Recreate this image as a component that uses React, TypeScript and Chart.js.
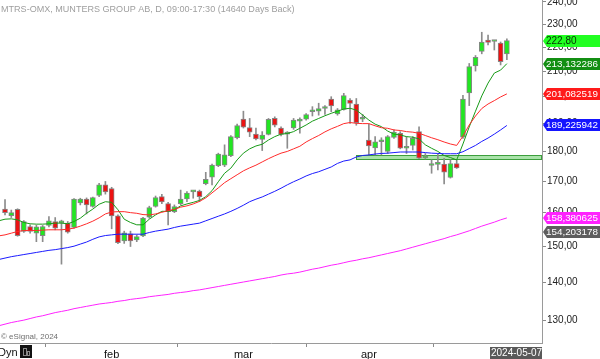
import React, { useEffect, useRef } from "react";
import { Chart, registerables } from "chart.js";

Chart.register(...registerables);

// ---------- DATA ----------
const titleText = "MTRS-OMX, MUNTERS GROUP AB, D, 09:00-17:30 (14640 Days Back)";
const copyrightText = "\u00A9 eSignal, 2024";
const lastDateText = "2024-05-07";

// candles (index 0..80)
const opens = [
  161.1, 159.1, 161.0, 154.3, 155.8, 153.8, 153.1, 156.1, 157.3, 156.9,
  156.8, 155.5, 163.0, 164.2, 161.9, 165.4, 168.8, 167.6, 159.0, 151.5,
  153.6, 151.8, 153.0, 158.6, 161.9, 165.0, 162.8, 160.3, 162.8, 164.3,
  166.5, 166.8, 169.2, 171.3, 175.1, 175.3, 178.5, 184.8, 191.6, 188.5,
  186.1, 184.2, 186.0, 191.8, 188.3, 186.1, 188.3, 190.8, 191.5, 194.3,
  194.5, 195.5, 199.1, 193.5, 195.2, 198.7, 197.2, 191.5, 184.0, 181.2,
  183.4, 180.0, 184.9, 186.4, 181.1, 182.1, 187.0, 177.8, 175.2, 175.6,
  175.7, 171.2, 175.8, 185.0, 201.5, 212.2, 218.2, 223.0, 222.4, 221.7,
  217.2,
];
const highs = [
  164.1, 160.8, 161.2, 157.6, 156.3, 156.2, 156.1, 158.8, 158.5, 157.7,
  157.3, 164.4, 164.5, 164.6, 164.9, 169.3, 169.9, 168.0, 159.3, 154.4,
  154.4, 153.3, 158.6, 162.0, 165.2, 165.7, 163.2, 162.4, 167.1, 166.6,
  166.9, 167.1, 172.9, 175.7, 179.4, 182.3, 185.6, 189.7, 194.5, 191.8,
  188.3, 187.0, 191.8, 192.4, 188.7, 187.0, 191.8, 192.0, 193.6, 196.2,
  197.5, 196.6, 200.0, 195.5, 201.3, 199.3, 199.3, 193.3, 189.7, 185.2,
  184.8, 185.6, 187.6, 187.0, 185.2, 185.2, 188.7, 179.3, 177.1, 179.1,
  177.6, 177.1, 177.0, 200.5, 213.2, 216.5, 226.4, 225.2, 222.8, 222.2,
  223.6,
];
const lows = [
  159.3, 158.5, 152.9, 154.0, 153.8, 151.3, 151.3, 155.7, 154.8, 144.9,
  153.8, 155.3, 162.4, 159.6, 161.7, 165.0, 165.8, 155.1, 150.7, 150.8,
  149.9, 151.3, 152.8, 158.3, 161.7, 162.8, 156.3, 160.0, 162.4, 163.4,
  164.5, 163.4, 168.8, 168.8, 174.8, 174.8, 178.2, 184.4, 188.3, 185.2,
  184.0, 180.3, 185.8, 188.7, 185.5, 181.1, 187.8, 186.4, 191.2, 192.7,
  193.0, 193.3, 194.3, 193.0, 194.9, 190.0, 189.3, 190.6, 178.8, 178.8,
  178.8, 179.3, 184.6, 180.9, 179.3, 180.5, 177.5, 177.4, 172.6, 173.7,
  169.1, 171.0, 174.2, 184.6, 196.6, 210.1, 217.2, 220.9, 218.8, 212.6,
  214.8,
];
const closes = [
  160.0, 160.0, 153.1, 157.3, 154.3, 155.7, 155.8, 157.5, 155.3, 157.4,
  154.1, 164.2, 164.2, 162.4, 164.7, 168.8, 166.5, 159.0, 151.0, 153.9,
  151.5, 152.8, 158.3, 161.6, 164.7, 163.3, 160.3, 161.9, 164.2, 166.1,
  166.7, 165.0, 170.6, 175.3, 179.1, 178.8, 185.2, 189.2, 188.6, 186.8,
  184.4, 185.8, 191.5, 189.3, 186.0, 186.7, 191.2, 191.1, 193.2, 194.9,
  195.5, 195.8, 196.5, 195.0, 200.4, 197.4, 190.2, 191.9, 181.9, 183.4,
  183.6, 185.2, 186.8, 181.1, 181.8, 184.6, 177.7, 178.0, 175.3, 175.8,
  173.0, 175.8, 174.4, 199.1, 211.9, 215.7, 222.2, 222.0, 222.6, 213.9,
  222.8,
];

// moving averages (index -1..80)
const maGreen = [
  157.5, 158.0, 158.1, 157.8, 157.0, 156.6, 156.5, 156.5, 156.6, 156.8, 156.8,
  156.6, 157.3, 158.3, 159.8, 161.1, 162.6, 163.4, 163.2, 160.9, 158.0,
  157.0, 156.3, 156.3, 158.0, 159.3, 160.4, 160.4, 160.9, 162.1, 162.7,
  163.2, 163.8, 165.0, 166.9, 169.8, 172.6, 174.3, 177.1, 179.4, 180.9,
  181.9, 182.5, 184.0, 185.2, 186.1, 186.3, 187.0, 188.2, 189.4, 190.8,
  191.8, 192.8, 193.7, 194.5, 195.3, 195.6, 194.9, 193.1, 191.2, 189.7,
  188.8, 187.2, 186.1, 185.8, 185.2, 185.0, 184.4, 182.3, 181.1, 180.0,
  178.6, 177.9, 177.1, 182.6, 188.7, 194.5, 200.3, 205.3, 209.3, 210.5,
  213.132286,
];
const maRed = [
  153.0, 153.3, 153.8, 154.3, 154.6, 154.6, 154.6, 154.7, 154.8, 154.8, 154.8,
  155.0, 155.3, 155.9, 156.6, 157.4, 158.4, 159.6, 160.2, 160.3, 160.3,
  160.0, 159.8, 159.4, 159.3, 159.6, 160.1, 160.6, 161.0, 161.7, 162.1,
  162.7, 163.5, 164.6, 166.2, 167.8, 169.5, 170.8, 172.1, 173.4, 174.4,
  175.3, 176.4, 177.5, 178.5, 179.4, 180.0, 180.9, 181.8, 183.3, 184.5,
  185.6, 186.9, 188.0, 188.9, 189.9, 190.3, 190.0, 189.9, 189.9, 189.1,
  188.4, 188.2, 187.6, 187.4, 187.0, 186.8, 186.4, 185.6, 184.8, 184.1,
  183.3, 182.6, 182.1, 185.4, 189.4, 192.7, 195.5, 197.2, 198.5, 199.9,
  201.082519,
];
const maBlue = [
  146.2, 146.6, 147.0, 147.3, 147.6, 147.9, 148.2, 148.5, 148.8, 149.0, 149.3,
  149.6, 150.0, 150.6, 151.2, 152.0, 152.7, 153.1, 153.3, 153.5, 153.5,
  153.5, 153.5, 153.5, 154.0, 154.4, 154.7, 155.0, 155.5, 155.9, 156.2,
  156.5, 156.8, 157.5, 158.2, 158.9, 159.6, 160.4, 161.3, 162.3, 163.4,
  164.2, 164.9, 165.8, 166.7, 167.7, 168.8, 169.8, 170.7, 171.7, 172.5,
  173.1, 173.9, 174.7, 175.9, 176.7, 177.1, 178.1, 178.6, 178.8, 179.1,
  179.3, 179.4, 179.6, 179.8, 179.8, 179.8, 179.8, 179.6, 179.4, 179.3,
  179.2, 179.2, 179.2, 179.9, 181.0, 182.1, 183.5, 184.7, 186.1, 187.6,
  189.225942,
];
const maMagenta = [
  128.7, 129.1, 129.5, 129.8, 130.1, 130.5, 130.9, 131.2, 131.6, 132.0, 132.3,
  132.6, 133.0, 133.3, 133.6, 133.9, 134.2, 134.4, 134.6, 134.9, 135.1,
  135.4, 135.6, 135.8, 136.1, 136.3, 136.5, 136.7, 137.0, 137.2, 137.4,
  137.7, 137.9, 138.2, 138.5, 138.8, 139.1, 139.4, 139.7, 140.0, 140.3,
  140.6, 140.9, 141.2, 141.5, 141.9, 142.2, 142.4, 142.7, 143.1, 143.5,
  143.8, 144.2, 144.6, 144.9, 145.3, 145.7, 146.0, 146.4, 146.7, 147.1,
  147.5, 147.9, 148.3, 148.7, 149.2, 149.7, 150.2, 150.7, 151.2, 151.7,
  152.2, 152.8, 153.3, 153.9, 154.5, 155.2, 155.9, 156.5, 157.1, 157.8,
  158.380625,
];

// axis ticks
const yTickValues = [130, 140, 150, 160, 170, 180, 190, 200, 210, 220, 230, 240];
const monthTickIndex = [17, 38, 58, 78.5];
const monthTickLabels = ["feb", "mar", "apr", ""];

// support band
const bandStartIndex = 55.95;
const bandLow = 177.3;
const bandHigh = 178.9;

// price badges on the right axis
const badgeValues = [222.8, 213.132286, 201.082519, 189.225942, 158.380625, 154.203178];
const badgeLabels = ["222,80", "213,132286", "201,082519", "189,225942", "158,380625", "154,203178"];
const badgeBg = ["#22ff22", "#138f13", "#ff1a1a", "#1515ff", "#ff22ff", "#5e5e5e"];
const badgeFg = ["#063306", "#ffffff", "#ffffff", "#ffffff", "#ffffff", "#ffffff"];

const FONT = '"Liberation Sans", Arial, sans-serif';
const GREEN = "#22e622";
const RED = "#ec1212";

const overlayPlugin = {
  id: "overlay",
  beforeDatasetsDraw(chart: any) {
    const { ctx, chartArea: a, scales } = chart;
    const x0 = Math.round(scales.x.getPixelForValue(bandStartIndex));
    const yt = Math.round(scales.y.getPixelForValue(bandHigh));
    const yb = Math.round(scales.y.getPixelForValue(bandLow));
    ctx.save();
    ctx.fillStyle = "#a9e3a9";
    ctx.fillRect(x0, yt, a.right - x0, yb - yt);
    ctx.strokeStyle = "#3c9e3c";
    ctx.lineWidth = 1;
    ctx.strokeRect(x0 + 0.5, yt + 0.5, a.right - x0 - 1, yb - yt);
    ctx.restore();
  },
  afterDraw(chart: any) {
    const { ctx, chartArea: a, scales } = chart;
    ctx.save();
    // title
    let fs = 10;
    ctx.font = `${fs}px ${FONT}`;
    const w = ctx.measureText(titleText).width;
    fs = (fs * 294) / w;
    ctx.font = `${fs}px ${FONT}`;
    ctx.fillStyle = "#9e9e9e";
    ctx.textBaseline = "alphabetic";
    ctx.textAlign = "left";
    ctx.fillText(titleText, 1, 12);

    // copyright
    ctx.font = `8px ${FONT}`;
    ctx.fillStyle = "#6f6f6f";
    ctx.fillText(copyrightText, 1, 339);

    // Dyn + icon
    ctx.font = `11px ${FONT}`;
    ctx.fillStyle = "#111";
    ctx.fillText("Dyn", -2, 356);
    ctx.fillStyle = "#111";
    ctx.fillRect(20, 345, 12, 13);
    ctx.strokeStyle = "#888";
    ctx.lineWidth = 1;
    ctx.strokeRect(23.5, 348.5, 3, 7);
    ctx.strokeRect(27.5, 351.5, 2, 4);

    // badges
    const tipX = a.right + 1;
    ctx.textBaseline = "middle";
    for (let i = 0; i < badgeValues.length; i++) {
      const y = Math.round(scales.y.getPixelForValue(badgeValues[i]));
      ctx.beginPath();
      ctx.moveTo(tipX, y);
      ctx.lineTo(tipX + 4, y - 6);
      ctx.lineTo(600, y - 6);
      ctx.lineTo(600, y + 6);
      ctx.lineTo(tipX + 4, y + 6);
      ctx.closePath();
      ctx.fillStyle = badgeBg[i];
      ctx.fill();
      let bfs = 10;
      ctx.font = `${bfs}px ${FONT}`;
      const tw = ctx.measureText(badgeLabels[i]).width;
      if (tw > 52) {
        bfs = (bfs * 52) / tw;
        ctx.font = `${bfs}px ${FONT}`;
      }
      ctx.fillStyle = badgeFg[i];
      ctx.fillText(badgeLabels[i], tipX + 3, y + 0.5);
    }

    // last date box
    ctx.fillStyle = "#595959";
    ctx.fillRect(490, 347, 52, 12);
    ctx.fillStyle = "#ffffff";
    ctx.font = `10px ${FONT}`;
    ctx.textBaseline = "middle";
    ctx.fillText(lastDateText, 491, 353.5);
    ctx.restore();
  },
};

export default function App() {
  const ref = useRef<HTMLCanvasElement | null>(null);

  useEffect(() => {
    const canvas = ref.current;
    if (!canvas) return;
    const idx = opens.map((_, i) => i);
    const wickData = idx.map((i) => ({ x: i, y: [lows[i], highs[i]] }));
    const bodyData = idx.map((i) => ({ x: i, y: [opens[i], closes[i]] }));
    const lineData = (arr: number[]) => arr.map((v, i) => ({ x: i - 1, y: v }));

    const lineDs = (arr: number[], color: string) => ({
      type: "line",
      data: lineData(arr),
      borderColor: color,
      borderWidth: 1,
      pointRadius: 0,
      tension: 0,
      fill: false,
      order: 0,
    });

    const chart = new Chart(canvas, {
      type: "bar",
      data: {
        datasets: [
          {
            type: "bar",
            data: wickData,
            backgroundColor: "#8c8c8c",
            borderWidth: 0,
            barThickness: 1,
            grouped: false,
            order: 3,
          },
          {
            type: "bar",
            data: bodyData,
            backgroundColor: (c: any) => {
              const i = c.dataIndex;
              return closes[i] >= opens[i] ? GREEN : RED;
            },
            borderColor: "#868686",
            borderWidth: 1,
            borderSkipped: false,
            barThickness: 5,
            minBarLength: 2,
            grouped: false,
            order: 2,
          },
          lineDs(maMagenta, "#ff22ff"),
          lineDs(maBlue, "#1a1aff"),
          lineDs(maRed, "#ff2a2a"),
          lineDs(maGreen, "#179a17"),
        ] as any,
      },
      options: {
        responsive: false,
        animation: false,
        maintainAspectRatio: false,
        layout: { padding: 0 },
        plugins: {
          legend: { display: false },
          tooltip: { enabled: false },
          title: { display: false },
        },
        scales: {
          x: {
            type: "linear",
            position: "bottom",
            min: -0.8,
            max: 85.6,
            bounds: "data",
            offset: false,
            grid: { drawOnChartArea: false, drawTicks: true, tickLength: 4, color: "#8a8a8a" },
            border: { display: true, color: "#9a9a9a" },
            ticks: {
              autoSkip: false,
              maxRotation: 0,
              padding: 1,
              color: "#111",
              font: { family: FONT, size: 11 },
              callback: (_v: any, i: number) => monthTickLabels[i] ?? "",
            },
            afterBuildTicks: (s: any) => {
              s.ticks = monthTickIndex.map((v) => ({ value: v }));
            },
            afterFit: (s: any) => {
              s.height = 16;
              s.paddingLeft = 0;
              s.paddingRight = 0;
            },
          },
          y: {
            type: "logarithmic",
            position: "right",
            min: 124.5,
            max: 240.9,
            bounds: "data",
            grid: { drawOnChartArea: false, drawTicks: true, tickLength: 4, color: "#8a8a8a" },
            border: { display: true, color: "#9a9a9a" },
            ticks: {
              autoSkip: false,
              padding: 1,
              color: "#222",
              font: { family: FONT, size: 10 },
              callback: (v: any) => Number(v).toFixed(2).replace(".", ","),
            },
            afterBuildTicks: (s: any) => {
              s.ticks = yTickValues.map((v) => ({ value: v }));
            },
            afterFit: (s: any) => {
              s.width = 58;
              s.paddingTop = 0;
              s.paddingBottom = 0;
            },
          },
        },
      } as any,
      plugins: [overlayPlugin],
    });
    return () => chart.destroy();
  }, []);

  return (
    <div style={{ position: "absolute", left: 0, top: 0, width: 600, height: 359, background: "#fff" }}>
      <canvas ref={ref} width={600} height={359} style={{ display: "block", width: 600, height: 359 }} />
    </div>
  );
}
